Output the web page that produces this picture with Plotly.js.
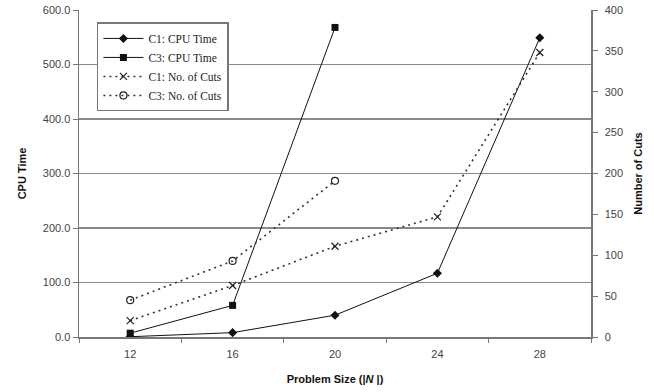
<!DOCTYPE html>
<html>
<head>
<meta charset="utf-8">
<script src="https://cdn.plot.ly/plotly-3.0.1.min.js"></script>
<style>html,body{margin:0;padding:0;background:#fff;}#chart{width:654px;height:392px;}</style>
</head>
<body>
<div id="chart"></div>
<script>
const categories = ["12", "16", "20", "24", "28"];
const c1CpuTime = [0.5, 8, 40, 117, 549];
const c3CpuTime = [7, 58, 568];
const c1Cuts = [20, 63, 111, 147, 348];
const c3Cuts = [45, 93, 191];
const leftTicks = [0, 100, 200, 300, 400, 500, 600];
const rightTicks = [0, 50, 100, 150, 200, 250, 300, 350, 400];

const traces = [
  {x: categories, y: c1CpuTime, name: "C1: CPU Time", type: "scatter", mode: "lines+markers",
   line: {color: "#111", width: 1}, marker: {symbol: "diamond", size: 7, color: "#111"}},
  {x: categories.slice(0, c3CpuTime.length), y: c3CpuTime, name: "C3: CPU Time", type: "scatter", mode: "lines+markers",
   line: {color: "#111", width: 1}, marker: {symbol: "square", size: 7, color: "#111"}},
  {x: categories, y: c1Cuts, name: "C1: No. of Cuts", type: "scatter", mode: "lines+markers", yaxis: "y2",
   line: {color: "#333", width: 1.6, dash: "2px,4px"}, marker: {symbol: "x-thin-open", size: 7, color: "#222", line: {width: 1.2, color: "#222"}}},
  {x: categories.slice(0, c3Cuts.length), y: c3Cuts, name: "C3: No. of Cuts", type: "scatter", mode: "lines+markers", yaxis: "y2",
   line: {color: "#333", width: 1.6, dash: "2px,4px"}, marker: {symbol: "circle-open", size: 7, color: "#222", line: {width: 1.2}}}
];

const tickFont = {family: "Liberation Sans, Arial, sans-serif", size: 11, color: "#444"};
const titleFont = {family: "Liberation Sans, Arial, sans-serif", size: 11, color: "#111", weight: "bold"};

const layout = {
  width: 654, height: 392,
  margin: {l: 79, r: 63, t: 10, b: 55},
  paper_bgcolor: "#fff", plot_bgcolor: "#fff",
  showlegend: true,
  legend: {x: 0.035, y: 0.962, xanchor: "left", yanchor: "top",
           bgcolor: "#fff", bordercolor: "#777", borderwidth: 1.5,
           font: {family: "Liberation Serif, Times New Roman, serif", size: 11.5, color: "#222"},
           tracegroupgap: 0, itemwidth: 40},
  xaxis: {type: "category", range: [-0.5, 4.5], tickson: "boundaries", ticks: "outside", ticklen: 4,
          tickcolor: "#777", showline: true, linecolor: "#777", linewidth: 1.5, showgrid: false, zeroline: false,
          tickfont: tickFont, ticklabelstandoff: 6,
          title: {text: "<b>Problem Size (|<i>N</i> |)</b>", font: titleFont, standoff: 16}},
  yaxis: {range: [0, 600], tickvals: leftTicks, tickformat: ".1f", ticks: "outside", ticklen: 5,
          tickcolor: "#777", showline: true, linecolor: "#777", linewidth: 1.5,
          showgrid: true, gridcolor: "#8a8a8a", gridwidth: 1.5, zeroline: false, tickfont: tickFont,
          title: {text: "<b>CPU Time</b>", font: titleFont, standoff: 14}},
  yaxis2: {range: [0, 400], tickvals: rightTicks, overlaying: "y", side: "right", ticks: "outside", ticklen: 5,
           tickcolor: "#777", showline: true, linecolor: "#777", linewidth: 1.5, showgrid: false, zeroline: false,
           tickfont: tickFont, ticklabelstandoff: 5,
           title: {text: "<b>Number of Cuts</b>", font: titleFont, standoff: 12}},
  yaxis3: {range: [0, 400], tickvals: rightTicks, overlaying: "y", side: "right", ticks: "inside", ticklen: 5,
           tickcolor: "#777", showline: false, showgrid: false, zeroline: false, showticklabels: false}
};

Plotly.newPlot("chart", traces, layout, {displayModeBar: false, staticPlot: true});
</script>
</body>
</html>
